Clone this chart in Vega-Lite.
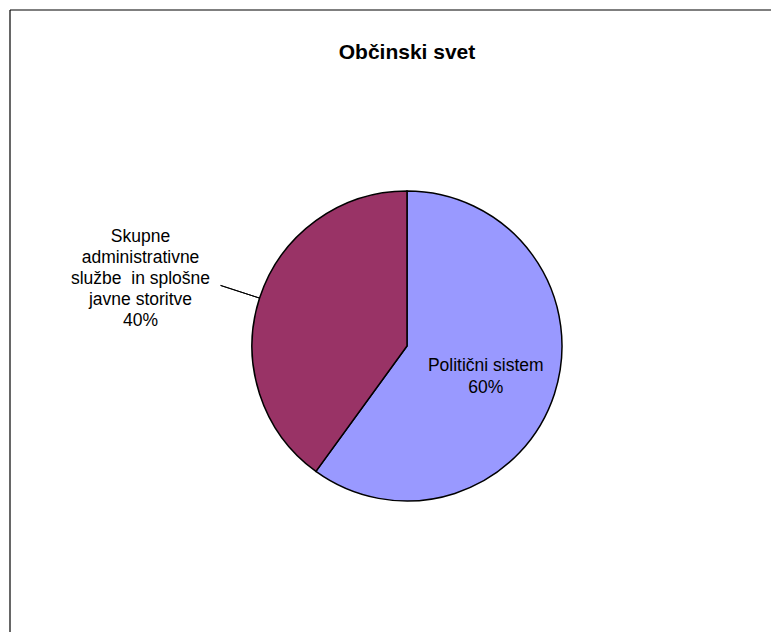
{
  "$schema": "https://vega.github.io/schema/vega-lite/v6.json",
  "autosize": "none",
  "width": 794,
  "height": 672,
  "padding": {"left": 10, "top": 10, "right": 0, "bottom": 0},
  "background": "#ffffff",
  "config": {
    "view": {"stroke": null},
    "font": "Liberation Sans"
  },
  "title": {
    "text": "Občinski svet",
    "font": "Liberation Sans",
    "fontSize": 21,
    "fontWeight": "bold",
    "color": "#000000",
    "anchor": "middle",
    "offset": -54
  },
  "data": {
    "values": [
      {"kategorija": "Politični sistem", "delez": 60, "ord": 1, "notranja": "Politični sistem\n60%", "zunanja": ""},
      {"kategorija": "Skupne administrativne službe in splošne javne storitve", "delez": 40, "ord": 2, "notranja": "", "zunanja": "Skupne\nadministrativne\nslužbe\u00a0 in splošne\njavne storitve\n40%"}
    ]
  },
  "layer": [
    {
      "data": {"values": [{"okvir": "zgoraj"}]},
      "mark": {"type": "rule", "stroke": "#000000", "strokeWidth": 1.2},
      "encoding": {
        "x": {"value": 0},
        "x2": {"value": 761},
        "y": {"value": 0},
        "y2": {"value": 0}
      }
    },
    {
      "data": {"values": [{"okvir": "levo"}]},
      "mark": {"type": "rule", "stroke": "#000000", "strokeWidth": 1.2},
      "encoding": {
        "x": {"value": 0},
        "x2": {"value": 0},
        "y": {"value": 0},
        "y2": {"value": 622}
      }
    },
    {
      "mark": {"type": "arc", "outerRadius": 155, "stroke": "#000000", "strokeWidth": 1.5},
      "encoding": {
        "theta": {"field": "delez", "type": "quantitative", "stack": true},
        "order": {"field": "ord", "type": "quantitative"},
        "color": {
          "field": "kategorija",
          "type": "nominal",
          "scale": {"domain": ["Politični sistem", "Skupne administrativne službe in splošne javne storitve"], "range": ["#9999FF", "#993366"]},
          "legend": null
        }
      }
    },
    {
      "mark": {"type": "text", "radius": 86, "fontSize": 17.5, "lineBreak": "\n", "lineHeight": 22, "align": "center", "baseline": "middle", "color": "#000000", "dy": -7, "dx": -3},
      "encoding": {
        "theta": {"field": "delez", "type": "quantitative", "stack": true},
        "order": {"field": "ord", "type": "quantitative"},
        "text": {"field": "notranja"}
      }
    },
    {
      "mark": {"type": "text", "radius": 276, "fontSize": 17.5, "lineBreak": "\n", "lineHeight": 21, "align": "center", "baseline": "middle", "color": "#000000", "dy": -24, "dx": -4},
      "encoding": {
        "theta": {"field": "delez", "type": "quantitative", "stack": true},
        "order": {"field": "ord", "type": "quantitative"},
        "text": {"field": "zunanja"}
      }
    },
    {
      "data": {"values": [{"vodilo": "Skupne administrativne službe in splošne javne storitve"}]},
      "mark": {"type": "arc", "theta": 5.0265, "theta2": 5.0265, "radius": 196, "radius2": 155, "stroke": "#000000", "strokeWidth": 1, "fill": null},
      "encoding": {}
    }
  ]
}
